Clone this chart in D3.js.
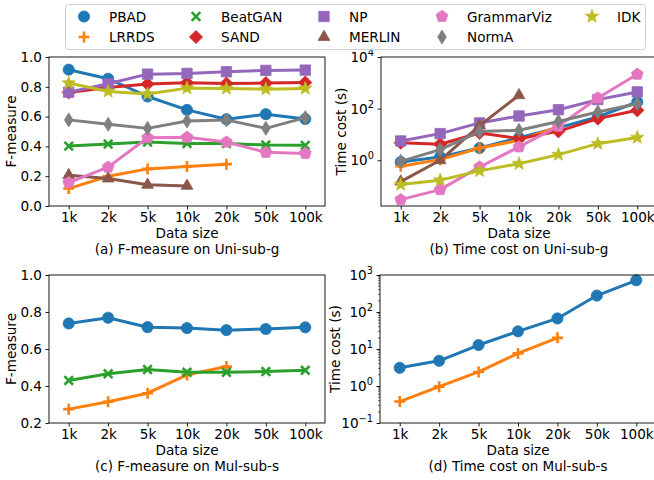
<!DOCTYPE html>
<html>
<head>
<meta charset="utf-8">
<script src="https://cdn.jsdelivr.net/npm/d3@7"></script>
<style>
  html, body { margin: 0; padding: 0; background: #fff; }
  svg { display: block; font-family: "DejaVu Sans", sans-serif; }
</style>
</head>
<body>
<svg id="chart" width="654" height="480"></svg>
<script>
// Data sizes along the x axis
const sizes = ["1k", "2k", "5k", "10k", "20k", "50k", "100k"];

// Method names, legend order
const methods = ["PBAD", "LRRDS", "BeatGAN", "SAND", "NP", "MERLIN", "GrammarViz", "NormA", "IDK"];

// (a) F-measure on Uni-sub-g
const fUni = {
  PBAD:       [0.915, 0.854, 0.735, 0.645, 0.582, 0.616, 0.584],
  LRRDS:      [0.117, 0.200, 0.249, 0.265, 0.281, null, null],
  BeatGAN:    [0.402, 0.416, 0.429, 0.420, 0.420, 0.409, 0.407],
  SAND:       [0.762, 0.796, 0.818, 0.827, 0.822, 0.825, 0.829],
  NP:         [0.764, 0.820, 0.885, 0.890, 0.901, 0.910, 0.912],
  MERLIN:     [0.207, 0.184, 0.142, 0.135, null, null, null],
  GrammarViz: [0.157, 0.261, 0.458, 0.461, 0.429, 0.360, 0.353],
  NormA:      [0.578, 0.548, 0.521, 0.571, 0.578, 0.521, 0.593],
  IDK:        [0.825, 0.769, 0.751, 0.791, 0.789, 0.784, 0.789]
};

// (b) Time cost (s) on Uni-sub-g
const tUni = {
  PBAD:       [0.86, 1.35, 3.0, 7.5, 18.4, 47.6, 181],
  LRRDS:      [0.59, 1.06, 3.0, 5.9, 20, null, null],
  BeatGAN:    [null, null, null, null, null, null, null],
  SAND:       [4.8, 4.2, 11.4, 6.9, 13.2, 41, 86],
  NP:         [5.6, 10.8, 28, 52, 91, 224, 445],
  MERLIN:     [0.15, 1.0, 22, 330, null, null, null],
  GrammarViz: [0.03, 0.073, 0.55, 3.3, 21, 258, 2140],
  NormA:      [0.91, 2.6, 13, 14.5, 32, 74, 156],
  IDK:        [0.115, 0.17, 0.39, 0.74, 1.66, 4.4, 7.6]
};

// (c) F-measure on Mul-sub-s
const fMul = {
  PBAD:    [0.738, 0.769, 0.718, 0.713, 0.702, 0.708, 0.717],
  LRRDS:   [0.275, 0.315, 0.361, 0.460, 0.505, null, null],
  BeatGAN: [0.430, 0.466, 0.489, 0.474, 0.474, 0.478, 0.485]
};

// (d) Time cost (s) on Mul-sub-s
const tMul = {
  PBAD:  [3.1, 4.8, 12.8, 30, 67, 278, 718],
  LRRDS: [0.38, 0.96, 2.4, 7.6, 20, null, null]
};

// Tick labels
const fTicksUni = [0.0, 0.2, 0.4, 0.6, 0.8, 1.0];
const fTicksMul = [0.2, 0.4, 0.6, 0.8, 1.0];
const tExpUni = [0, 2, 4];
const tExpMul = [-1, 0, 1, 2, 3];

const colors = {
  PBAD: "#1f77b4", LRRDS: "#ff7f0e", BeatGAN: "#2ca02c", SAND: "#d62728",
  NP: "#9467bd", MERLIN: "#8c564b", GrammarViz: "#e377c2", NormA: "#7f7f7f", IDK: "#bcbd22"
};
const shapes = {
  PBAD: "circle", LRRDS: "plus", BeatGAN: "x", SAND: "diamond", NP: "square",
  MERLIN: "triangle", GrammarViz: "pentagon", NormA: "thindiamond", IDK: "star"
};

// Marker outlines, built around the origin
function markerPath(shape) {
  const p = d3.path();
  if (shape === "circle") {
    p.arc(0, 0, 5.6, 0, 2 * Math.PI);
  } else if (shape === "square") {
    const h = 5.2; p.rect(-h, -h, 2 * h, 2 * h);
  } else if (shape === "diamond") {
    const h = 6.6; p.moveTo(0, -h); p.lineTo(h, 0); p.lineTo(0, h); p.lineTo(-h, 0); p.closePath();
  } else if (shape === "thindiamond") {
    const h = 7, w = 4.3; p.moveTo(0, -h); p.lineTo(w, 0); p.lineTo(0, h); p.lineTo(-w, 0); p.closePath();
  } else if (shape === "triangle") {
    const r = 6.8;
    for (let i = 0; i < 3; i++) {
      const a = -Math.PI / 2 + i * 2 * Math.PI / 3;
      i ? p.lineTo(r * Math.cos(a), r * Math.sin(a)) : p.moveTo(r * Math.cos(a), r * Math.sin(a));
    }
    p.closePath();
  } else if (shape === "pentagon") {
    const r = 6.2;
    for (let i = 0; i < 5; i++) {
      const a = -Math.PI / 2 + i * 2 * Math.PI / 5;
      i ? p.lineTo(r * Math.cos(a), r * Math.sin(a)) : p.moveTo(r * Math.cos(a), r * Math.sin(a));
    }
    p.closePath();
  } else if (shape === "star") {
    const ro = 7, ri = 2.9;
    for (let i = 0; i < 10; i++) {
      const a = -Math.PI / 2 + i * Math.PI / 5, r = i % 2 ? ri : ro;
      i ? p.lineTo(r * Math.cos(a), r * Math.sin(a)) : p.moveTo(r * Math.cos(a), r * Math.sin(a));
    }
    p.closePath();
  } else if (shape === "plus") {
    const h = 5.5; p.moveTo(-h, 0); p.lineTo(h, 0); p.moveTo(0, -h); p.lineTo(0, h);
  } else if (shape === "x") {
    const h = 4.3; p.moveTo(-h, -h); p.lineTo(h, h); p.moveTo(-h, h); p.lineTo(h, -h);
  }
  return p.toString();
}
const strokeOnly = s => s === "plus" || s === "x";

function drawMarker(g, name, x, y) {
  const s = shapes[name];
  g.append("path")
    .attr("d", markerPath(s))
    .attr("transform", `translate(${x},${y})`)
    .attr("fill", strokeOnly(s) ? "none" : colors[name])
    .attr("stroke", colors[name])
    .attr("stroke-width", strokeOnly(s) ? 2.6 : 0.8);
}

const svg = d3.select("#chart");
const FS = 13.6;     // ticks, axis titles, legend
const FS_CAP = 13.5; // panel captions

function superLabel(sel, exp) {
  sel.text(null);
  sel.append("tspan").text("10");
  sel.append("tspan").attr("dy", -6).attr("font-size", FS * 0.72)
    .text(exp < 0 ? "\u2212" + Math.abs(exp) : String(exp));
}

function panel(opt) {
  const { left, right, top, bottom, data, log, yDomain, ticks, caption, ylabel } = opt;
  const g = svg.append("g");
  const x = d3.scalePoint().domain(sizes).range([left, right]).padding(0.5);
  const y = (log ? d3.scaleLog() : d3.scaleLinear()).domain(yDomain).range([bottom, top]);

  // series
  const line = d3.line()
    .defined(d => d.v != null)
    .x(d => x(d.k)).y(d => y(d.v));
  Object.keys(data).forEach(name => {
    const pts = sizes.map((k, i) => ({ k, v: data[name][i] }));
    if (pts.every(d => d.v == null)) return;
    const sg = g.append("g");
    sg.append("path").datum(pts).attr("d", line)
      .attr("fill", "none").attr("stroke", colors[name])
      .attr("stroke-width", 3).attr("stroke-linejoin", "round");
    pts.filter(d => d.v != null).forEach(d => drawMarker(sg, name, x(d.k), y(d.v)));
  });

  // frame
  g.append("rect").attr("x", left).attr("y", top)
    .attr("width", right - left).attr("height", bottom - top)
    .attr("fill", "none").attr("stroke", "#000").attr("stroke-width", 0.9);

  // x axis
  const xa = g.append("g").attr("transform", `translate(0,${bottom})`)
    .call(d3.axisBottom(x).tickSize(3.5).tickPadding(2.5));
  xa.select(".domain").remove();
  xa.selectAll("line").attr("stroke-width", 0.9);
  xa.selectAll("text").attr("font-size", FS).attr("font-family", "DejaVu Sans").attr("fill", "#000");

  // y axis
  const yAxis = d3.axisLeft(y).tickSize(3.5).tickPadding(3.5);
  if (log) {
    yAxis.tickValues(ticks.map(e => Math.pow(10, e))).tickFormat("");
  } else {
    yAxis.tickValues(ticks).tickFormat(d3.format(".1f"));
  }
  const ya = g.append("g").attr("transform", `translate(${left},0)`).call(yAxis);
  ya.select(".domain").remove();
  ya.selectAll("line").attr("stroke-width", 0.9);
  ya.selectAll("text").attr("font-size", FS).attr("font-family", "DejaVu Sans").attr("fill", "#000");
  if (log) {
    ya.selectAll(".tick text").each(function (d) {
      superLabel(d3.select(this), Math.round(Math.log10(d)));
    });
    if (opt.minor) {
      const [lo, hi] = yDomain;
      const minor = [];
      for (let e = Math.floor(Math.log10(lo)); e < Math.log10(hi); e++)
        for (let m = 2; m < 10; m++) {
          const v = m * Math.pow(10, e);
          if (v >= lo && v <= hi) minor.push(v);
        }
      g.append("g").selectAll("line").data(minor).join("line")
        .attr("x1", left - 2).attr("x2", left)
        .attr("y1", d => y(d)).attr("y2", d => y(d))
        .attr("stroke", "#000").attr("stroke-width", 0.6);
    }
  }

  const cx = (left + right) / 2;
  g.append("text").attr("x", cx).attr("y", bottom + 31.7)
    .attr("text-anchor", "middle").attr("font-size", FS).text("Data size");
  g.append("text").attr("x", cx).attr("y", bottom + 48.3)
    .attr("text-anchor", "middle").attr("font-size", FS_CAP).text(caption);
  g.append("text")
    .attr("transform", `translate(${opt.ylabelX},${(top + bottom) / 2}) rotate(-90)`)
    .attr("text-anchor", "middle").attr("font-size", FS).text(ylabel);
}

panel({ left: 49, right: 325, top: 57, bottom: 206, data: fUni, log: false,
  yDomain: [0, 1], ticks: fTicksUni, caption: "(a) F-measure on Uni-sub-g",
  ylabel: "F-measure", ylabelX: 16 });
panel({ left: 381, right: 657, top: 57, bottom: 206, data: tUni, log: true,
  yDomain: [Math.pow(10, -1.77), 1e4], ticks: tExpUni, caption: "(b) Time cost on Uni-sub-g",
  ylabel: "Time cost (s)", ylabelX: 346 });
panel({ left: 49, right: 325, top: 275, bottom: 423, data: fMul, log: false,
  yDomain: [0.2, 1], ticks: fTicksMul, caption: "(c) F-measure on Mul-sub-s",
  ylabel: "F-measure", ylabelX: 16 });
panel({ left: 380, right: 656, top: 275, bottom: 423, data: tMul, log: true, minor: true,
  yDomain: [0.1, 1000], ticks: tExpMul, caption: "(d) Time cost on Mul-sub-s",
  ylabel: "Time cost (s)", ylabelX: 340 });

// legend: five columns, two rows, filled column by column
const lg = svg.append("g");
lg.append("rect").attr("x", 65.5).attr("y", 4.5).attr("width", 580).attr("height", 45)
  .attr("rx", 3).attr("fill", "#fff").attr("fill-opacity", 0.8)
  .attr("stroke", "#d0d0d0").attr("stroke-width", 1);
const colX = [84, 196, 324, 442, 592];
const rowY = [16.5, 37];
methods.forEach((name, i) => {
  const c = Math.floor(i / 2), r = i % 2;
  drawMarker(lg, name, colX[c], rowY[r]);
  lg.append("text").attr("x", colX[c] + 25).attr("y", rowY[r] + 5)
    .attr("font-size", FS).text(name);
});
</script>
</body>
</html>
